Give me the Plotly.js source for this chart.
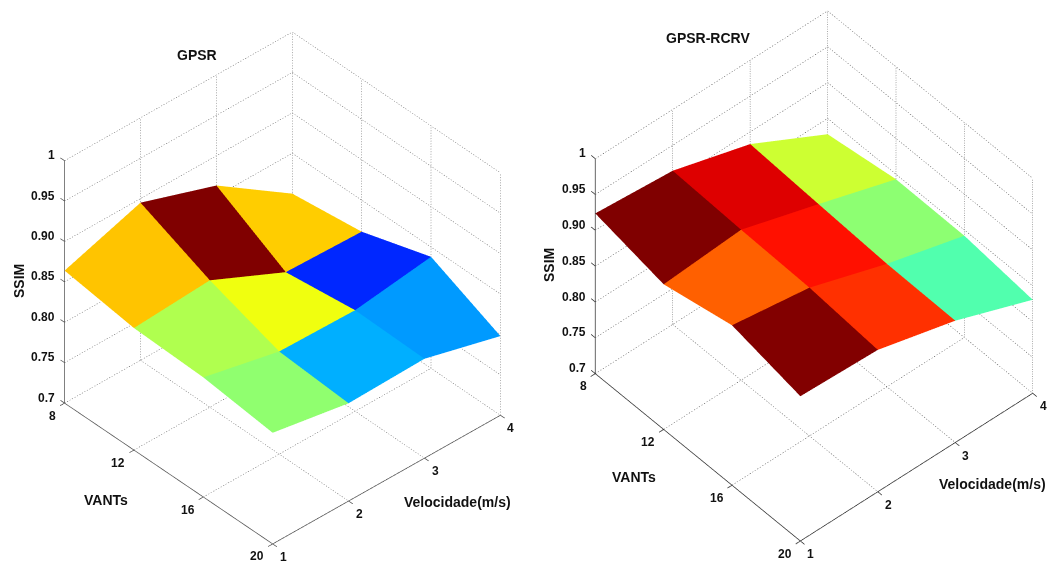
<!DOCTYPE html>
<html><head><meta charset="utf-8">
<script src="https://cdn.plot.ly/plotly-3.0.0.min.js"></script>
<style>html,body{margin:0;padding:0;background:#fff}#c{width:1049px;height:564px}</style></head>
<body><div id="c"></div>
<script>
const vants = [8, 12, 16, 20];
const velocidade = [1, 2, 3, 4];
const zTicks = [0.7, 0.75, 0.8, 0.85, 0.9, 0.95, 1];
const zTickLabels = ['0.7', '0.75', '0.80', '0.85', '0.90', '0.95', '1'];
// rows: VANTs, columns: velocidade
const ssimGpsr = [
  [0.864, 0.895, 0.8632, 0.800],
  [0.851, 0.857, 0.814, 0.811],
  [0.848, 0.827, 0.825, 0.838],
  [0.8375, 0.821, 0.823, 0.798]
];
const ssimRcrv = [
  [0.9236, 0.9145, 0.883, 0.828],
  [0.9025, 0.910, 0.877, 0.843],
  [0.9232, 0.907, 0.8715, 0.842],
  [0.902, 0.898, 0.870, 0.8305]
];
const jet = [[0,'#00008f'],[0.125,'#0000ff'],[0.375,'#00ffff'],[0.625,'#ffff00'],[0.875,'#ff0000'],[1,'#800000']];

const xR = [7, 21], yR = [0.75, 4.25], zR = [0.675, 1.025];
const tickX = 0.24, tickY = 0.06;
const dotsPerEdge = 92, dotOn = 0.42;

function meshTrace(z, scene) {
  const X=[],Y=[],Z=[],I=[],J=[],K=[],C=[];
  const n = vants.length, m = velocidade.length;
  z.forEach((row,r)=>row.forEach((v,c)=>{X.push(vants[r]);Y.push(velocidade[c]);Z.push(v);}));
  for (let r=0;r<n-1;r++) for (let c=0;c<m-1;c++){
    const a=r*m+c,b=a+1,d=a+m,e=d+1;
    I.push(a,a);J.push(b,e);K.push(e,d);C.push(z[r][c],z[r][c]);
  }
  const fl = z.flat();
  return {type:'mesh3d',scene,x:X,y:Y,z:Z,i:I,j:J,k:K,intensity:C,intensitymode:'cell',
    colorscale:jet,cmin:Math.min(...fl),cmax:Math.max(...fl),showscale:false,flatshading:true,hoverinfo:'skip',
    lighting:{ambient:1,diffuse:0,specular:0,roughness:1,fresnel:0},lightposition:{x:0,y:0,z:1000}};
}
function gridTrace(scene, color) {
  const X=[],Y=[],Z=[];
  const seg=(a,b)=>{
    for(let n=0;n<dotsPerEdge;n++){
      const s=n/dotsPerEdge,e=(n+dotOn)/dotsPerEdge;
      const p=t=>a.map((v,i)=>v+(b[i]-v)*t);
      const P=p(s),Q=p(e);
      X.push(P[0],Q[0],null);Y.push(P[1],Q[1],null);Z.push(P[2],Q[2],null);
    }
  };
  const vMin=vants[0],vMax=vants[vants.length-1],sMin=velocidade[0],sMax=velocidade[velocidade.length-1],zMin=zTicks[0],zMax=zTicks[zTicks.length-1];
  velocidade.forEach(s=>{ if(s>sMin) seg([vMin,s,zMin],[vMax,s,zMin]); if(s>sMin) seg([vMin,s,zMin],[vMin,s,zMax]); });
  vants.forEach(v=>{ if(v<vMax) seg([v,sMin,zMin],[v,sMax,zMin]); if(v>vMin) seg([v,sMax,zMin],[v,sMax,zMax]); });
  zTicks.forEach(t=>{ seg([vMin,sMin,t],[vMin,sMax,t]); seg([vMin,sMax,t],[vMax,sMax,t]); });
  return {type:'scatter3d',scene,mode:'lines',x:X,y:Y,z:Z,hoverinfo:'skip',showlegend:false,connectgaps:false,
    line:{color,width:1}};
}
function axisTrace(scene, color) {
  const X=[],Y=[],Z=[];
  const seg=(a,b)=>{X.push(a[0],b[0],null);Y.push(a[1],b[1],null);Z.push(a[2],b[2],null);};
  const vMin=vants[0],vMax=vants[vants.length-1],sMin=velocidade[0],sMax=velocidade[velocidade.length-1],zMin=zTicks[0],zMax=zTicks[zTicks.length-1];
  seg([vMin,sMin,zMin],[vMin,sMin,zMax]);
  seg([vMin,sMin,zMin],[vMax,sMin,zMin]);
  seg([vMax,sMin,zMin],[vMax,sMax,zMin]);
  zTicks.forEach(t=>seg([vMin,sMin,t],[vMin-tickX,sMin,t]));
  vants.forEach(v=>seg([v,sMin,zMin],[v,sMin-tickY,zMin]));
  velocidade.forEach(s=>seg([vMax,s,zMin],[vMax+tickX,s,zMin]));
  return {type:'scatter3d',scene,mode:'lines',x:X,y:Y,z:Z,hoverinfo:'skip',showlegend:false,connectgaps:false,
    line:{color,width:1.5}};
}
const lab = {family:'"Liberation Sans", Arial, sans-serif',size:12,color:'#111'};
function sceneAnn() {
  const a=[], vMin=vants[0],vMax=vants[vants.length-1],sMin=velocidade[0],zMin=zTicks[0];
  const base={showarrow:false,font:lab};
  zTicks.forEach((t,i)=>a.push({...base,x:vMin,y:sMin,z:t,text:'<b>'+zTickLabels[i]+'</b>',xanchor:'right',xshift:-7.5,yshift:5.5}));
  vants.forEach(v=>a.push({...base,x:v,y:sMin,z:zMin,text:'<b>'+v+'</b>',xanchor:'right',xshift:-6.5,yshift:-12.5}));
  velocidade.forEach(s=>a.push({...base,x:vMax,y:s,z:zMin,text:'<b>'+s+'</b>',xanchor:'center',xshift:10.5,yshift:-13}));
  return a;
}
const hid={visible:false,showgrid:false,showline:false,zeroline:false,showticklabels:false,showspikes:false,showbackground:false,autorange:false};
function scene(domX,domY,eye,cubeScale){
  return {domain:{x:domX.map(p=>p/1049),y:domY.map(p=>1-p/564).reverse()},
    aspectmode:'manual',aspectratio:{x:cubeScale,y:cubeScale,z:cubeScale},
    xaxis:{...hid,range:xR},yaxis:{...hid,range:yR},zaxis:{...hid,range:zR},
    camera:{eye,center:{x:0,y:0,z:0},up:{x:0,y:0,z:1},projection:{type:'orthographic'}},
    annotations:sceneAnn(),bgcolor:'rgba(0,0,0,0)'};
}
const K = 1.765;
const eyeL={x:0.580*K,y:-0.530*K,z:0.618*K}, eyeR={x:0.520*K,y:-0.459*K,z:0.7203*K};
const T={family:'"Liberation Sans", Arial, sans-serif',size:14,color:'#111'};
const note=(px,py,t,extra)=>({xref:'paper',yref:'paper',x:px/1049,y:1-py/564,text:'<b>'+t+'</b>',showarrow:false,font:T,xanchor:'center',yanchor:'middle',...extra});
const layout={width:1049,height:564,margin:{l:0,r:0,t:0,b:0},paper_bgcolor:'#fff',showlegend:false,
  scene:scene([0,565],[12,564],eyeL,1.304),
  scene2:scene([579,1049],[0,552.2],eyeR,1.31),
  annotations:[
    note(197,55,'GPSR'),note(708,38,'GPSR-RCRV'),
    note(19,281,'SSIM',{textangle:-90}),note(549,265,'SSIM',{textangle:-90}),
    note(106,500,'VANTs'),note(634,477,'VANTs'),
    note(457,502,'Velocidade(m/s)'),note(992,484,'Velocidade(m/s)')
  ]};
const data=[gridTrace('scene','#666'),axisTrace('scene','#555'),meshTrace(ssimGpsr,'scene'),
            gridTrace('scene2','#555'),axisTrace('scene2','#333'),meshTrace(ssimRcrv,'scene2')];
Plotly.newPlot('c',data,layout,{displayModeBar:false});
</script></body></html>
